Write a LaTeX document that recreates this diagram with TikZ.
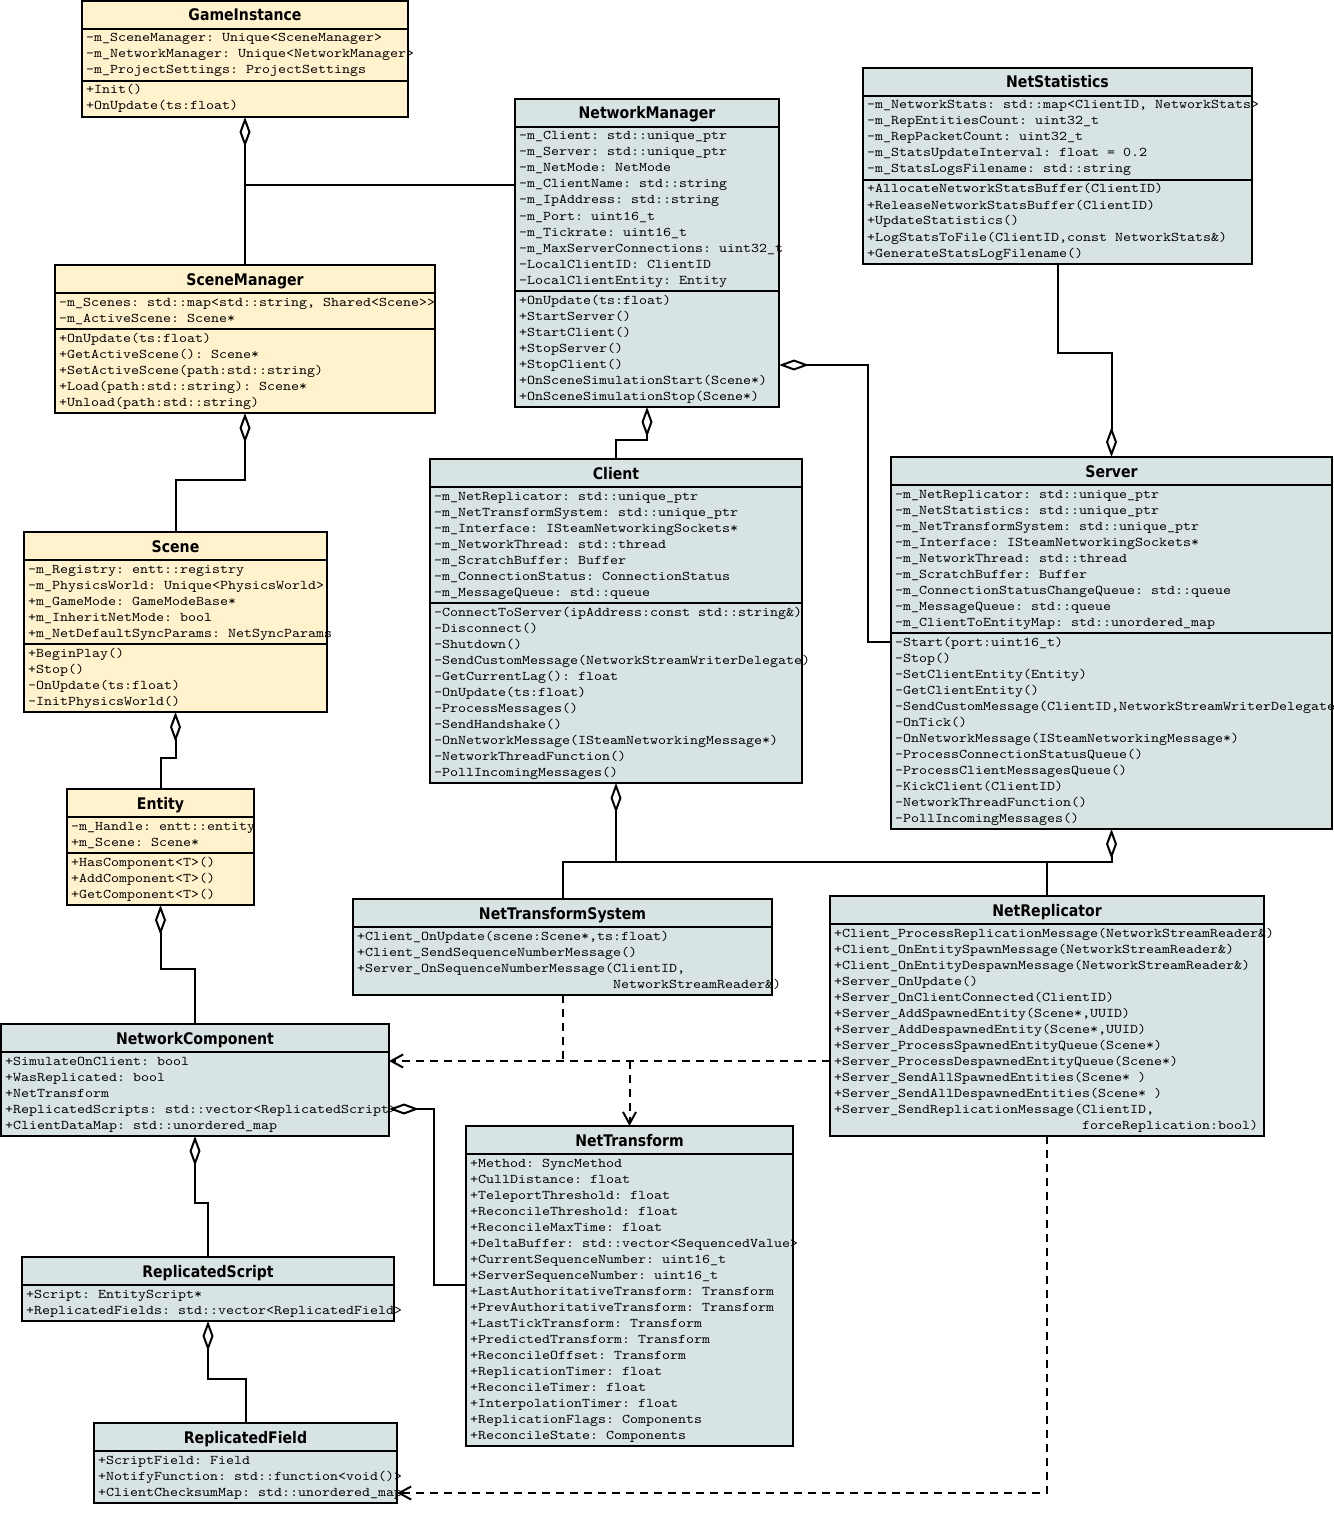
\documentclass[tikz,border=0pt]{standalone}
\usepackage{fontspec}
\usetikzlibrary{arrows.meta,calc}
\newfontfamily\umltitlefont[FakeStretch=0.88]{DejaVu Sans}
\newfontfamily\umlmono[FakeStretch=1.143]{lmmono10-regular.otf}
\definecolor{umlyellow}{RGB}{255,242,204}
\definecolor{umlblue}{RGB}{216,228,228}
\tikzset{
  conn/.style={line width=2pt, draw=black},
  sepline/.style={line width=2pt, draw=black},
  classbox/.style={draw=black, line width=2pt, inner sep=0pt, outer sep=0pt, anchor=north west},
  classtitle/.style={inner sep=0pt, anchor=base, font={\umltitlefont\bfseries\fontsize{16}{18}\selectfont}},
  member/.style={inner sep=0pt, anchor=base west, font={\umlmono\fontsize{13.33}{16}\selectfont\frenchspacing}},
  aggs/.style={conn, {Diamond[length=30pt, width=11pt, fill=white]}-},
  agge/.style={conn, -{Diamond[length=30pt, width=11pt, fill=white]}},
  depline/.style={conn, dash pattern=on 8pt off 6pt},
  dep/.style={depline, -{Straight Barb[length=12pt, width=13pt]}}
}
\newcommand\umlclass[8]{%
  \gdef\umlna{0}\gdef\umlnm{0}%
  \foreach \t [count=\i] in {#7}{\xdef\umlna{\i}}%
  \if\relax\detokenize{#8}\relax\else
    \foreach \t [count=\i] in {#8}{\xdef\umlnm{\i}}%
  \fi
  \pgfmathsetmacro\umlha{16*\umlna+4}%
  \pgfmathsetmacro\umlhm{ifthenelse(\umlnm>0,16*\umlnm+4,0)}%
  \pgfmathsetmacro\umltot{28+\umlha+\umlhm}%
  \node[classbox, fill=#5, minimum width=#4pt, minimum height=\umltot pt] (#1) at (#2,#3) {};
  \node[classtitle] (#1-t) at ({#2+#4/2},{#3+20}) {#6};
  \draw[sepline] ($(#1.north west)+(0,28)$) -- ($(#1.north east)+(0,28)$);
  \foreach \t [count=\i] in {#7}{\node[member] (#1-a\i) at ({#2+4},{#3+41+16*(\i-1)}) {\t};}
  \if\relax\detokenize{#8}\relax\else
    \draw[sepline] ($(#1.north west)+(0,28+\umlha)$) -- ($(#1.north east)+(0,28+\umlha)$);
    \foreach \t [count=\i] in {#8}{\node[member] (#1-m\i) at ({#2+4},{#3+41+\umlha+16*(\i-1)}) {\t};}
  \fi
}
\begin{document}
\begin{tikzpicture}[x=1pt, y=-1pt]
\fill[white] (0,0) rectangle (1333,1525);
\useasboundingbox (0,0) rectangle (1333,1525);

\umlclass{gi}{82}{1}{326}{umlyellow}{GameInstance}
{{-m\_SceneManager: Unique<SceneManager>},{-m\_NetworkManager: Unique<NetworkManager>},{-m\_ProjectSettings: ProjectSettings}}
{{+Init()},{+OnUpdate(ts:float)}}

\umlclass{sm}{55}{265}{380}{umlyellow}{SceneManager}
{{-m\_Scenes: std::map<std::string, Shared<Scene>>},{-m\_ActiveScene: Scene*}}
{{+OnUpdate(ts:float)},{+GetActiveScene(): Scene*},{+SetActiveScene(path:std::string)},{+Load(path:std::string): Scene*},{+Unload(path:std::string)}}

\umlclass{scene}{24}{532}{303}{umlyellow}{Scene}
{{-m\_Registry: entt::registry},{-m\_PhysicsWorld: Unique<PhysicsWorld>},{+m\_GameMode: GameModeBase*},{+m\_InheritNetMode: bool},{+m\_NetDefaultSyncParams: NetSyncParams}}
{{+BeginPlay()},{+Stop()},{-OnUpdate(ts:float)},{-InitPhysicsWorld()}}

\umlclass{entity}{67}{789}{187}{umlyellow}{Entity}
{{-m\_Handle: entt::entity},{+m\_Scene: Scene*}}
{{+HasComponent<T>()},{+AddComponent<T>()},{+GetComponent<T>()}}

\umlclass{nm}{515}{99}{264}{umlblue}{NetworkManager}
{{-m\_Client: std::unique\_ptr},{-m\_Server: std::unique\_ptr},{-m\_NetMode: NetMode},{-m\_ClientName: std::string},{-m\_IpAddress: std::string},{-m\_Port: uint16\_t},{-m\_Tickrate: uint16\_t},{-m\_MaxServerConnections: uint32\_t},{-LocalClientID: ClientID},{-LocalClientEntity: Entity}}
{{+OnUpdate(ts:float)},{+StartServer()},{+StartClient()},{+StopServer()},{+StopClient()},{+OnSceneSimulationStart(Scene*)},{+OnSceneSimulationStop(Scene*)}}

\umlclass{ns}{863}{68}{389}{umlblue}{NetStatistics}
{{-m\_NetworkStats: std::map<ClientID, NetworkStats>},{-m\_RepEntitiesCount: uint32\_t},{-m\_RepPacketCount: uint32\_t},{-m\_StatsUpdateInterval: float = 0.2},{-m\_StatsLogsFilename: std::string}}
{{+AllocateNetworkStatsBuffer(ClientID)},{+ReleaseNetworkStatsBuffer(ClientID)},{+UpdateStatistics()},{+LogStatsToFile(ClientID,const NetworkStats\&)},{+GenerateStatsLogFilename()}}

\umlclass{client}{430}{459}{372}{umlblue}{Client}
{{-m\_NetReplicator: std::unique\_ptr},{-m\_NetTransformSystem: std::unique\_ptr},{-m\_Interface: ISteamNetworkingSockets*},{-m\_NetworkThread: std::thread},{-m\_ScratchBuffer: Buffer},{-m\_ConnectionStatus: ConnectionStatus},{-m\_MessageQueue: std::queue}}
{{-ConnectToServer(ipAddress:const std::string\&)},{-Disconnect()},{-Shutdown()},{-SendCustomMessage(NetworkStreamWriterDelegate)},{-GetCurrentLag(): float},{-OnUpdate(ts:float)},{-ProcessMessages()},{-SendHandshake()},{-OnNetworkMessage(ISteamNetworkingMessage*)},{-NetworkThreadFunction()},{-PollIncomingMessages()}}

\umlclass{server}{891}{457}{441}{umlblue}{Server}
{{-m\_NetReplicator: std::unique\_ptr},{-m\_NetStatistics: std::unique\_ptr},{-m\_NetTransformSystem: std::unique\_ptr},{-m\_Interface: ISteamNetworkingSockets*},{-m\_NetworkThread: std::thread},{-m\_ScratchBuffer: Buffer},{-m\_ConnectionStatusChangeQueue: std::queue},{-m\_MessageQueue: std::queue},{-m\_ClientToEntityMap: std::unordered\_map}}
{{-Start(port:uint16\_t)},{-Stop()},{-SetClientEntity(Entity)},{-GetClientEntity()},{-SendCustomMessage(ClientID,NetworkStreamWriterDelegate},{-OnTick()},{-OnNetworkMessage(ISteamNetworkingMessage*)},{-ProcessConnectionStatusQueue()},{-ProcessClientMessagesQueue()},{-KickClient(ClientID)},{-NetworkThreadFunction()},{-PollIncomingMessages()}}

\umlclass{nts}{353}{899}{419}{umlblue}{NetTransformSystem}
{{+Client\_OnUpdate(scene:Scene*,ts:float)},{+Client\_SendSequenceNumberMessage()},{+Server\_OnSequenceNumberMessage(ClientID,},{\phantom{+Server\_OnSequenceNumberMessage(}NetworkStreamReader\&)}}
{}

\umlclass{nr}{830}{896}{434}{umlblue}{NetReplicator}
{{+Client\_ProcessReplicationMessage(NetworkStreamReader\&)},{+Client\_OnEntitySpawnMessage(NetworkStreamReader\&)},{+Client\_OnEntityDespawnMessage(NetworkStreamReader\&)},{+Server\_OnUpdate()},{+Server\_OnClientConnected(ClientID)},{+Server\_AddSpawnedEntity(Scene*,UUID)},{+Server\_AddDespawnedEntity(Scene*,UUID)},{+Server\_ProcessSpawnedEntityQueue(Scene*)},{+Server\_ProcessDespawnedEntityQueue(Scene*)},{+Server\_SendAllSpawnedEntities(Scene* )},{+Server\_SendAllDespawnedEntities(Scene* )},{+Server\_SendReplicationMessage(ClientID,},{\phantom{+Server\_SendReplicationMessage(}forceReplication:bool)}}
{}

\umlclass{nc}{1}{1024}{388}{umlblue}{NetworkComponent}
{{+SimulateOnClient: bool},{+WasReplicated: bool},{+NetTransform},{+ReplicatedScripts: std::vector<ReplicatedScript>},{+ClientDataMap: std::unordered\_map}}
{}

\umlclass{nt}{466}{1126}{327}{umlblue}{NetTransform}
{{+Method: SyncMethod},{+CullDistance: float},{+TeleportThreshold: float},{+ReconcileThreshold: float},{+ReconcileMaxTime: float},{+DeltaBuffer: std::vector<SequencedValue>},{+CurrentSequenceNumber: uint16\_t},{+ServerSequenceNumber: uint16\_t},{+LastAuthoritativeTransform: Transform},{+PrevAuthoritativeTransform: Transform},{+LastTickTransform: Transform},{+PredictedTransform: Transform},{+ReconcileOffset: Transform},{+ReplicationTimer: float},{+ReconcileTimer: float},{+InterpolationTimer: float},{+ReplicationFlags: Components},{+ReconcileState: Components}}
{}

\umlclass{rs}{22}{1257}{372}{umlblue}{ReplicatedScript}
{{+Script: EntityScript*},{+ReplicatedFields: std::vector<ReplicatedField>}}
{}

\umlclass{rf}{94}{1423}{303}{umlblue}{ReplicatedField}
{{+ScriptField: Field},{+NotifyFunction: std::function<void()>},{+ClientChecksumMap: std::unordered\_map}}
{}

% aggregation connectors
\draw[aggs] (gi.south) -- (sm.north);
\path ($(nm.north west)+(0,86)$) coordinate (nmL);
\draw[conn] (nmL) -- (gi.south |- nmL);
\draw[aggs] (sm.south) -- ++(0,67) -| (scene.north);
\draw[aggs] (scene.south) -- ++(0,46) -| (entity.north);
\draw[aggs] (entity.south) -- ++(0,64) -| (nc.north);
\draw[aggs] (nc.south) -- ++(0,67) -| (rs.north);
\draw[aggs] (rs.south) -- ++(0,58) -| (rf.north);
\draw[aggs] (nm.south) -- ++(0,33) -| (client.north);
\draw[aggs] ($(nm.north east)+(0,266)$) -- ++(89,0) |- ($(server.north west)+(0,185)$);
\draw[agge] (ns.south) -- ++(0,89) -| (server.north);
\draw[aggs] (client.south) -- ++(0,79) coordinate (bus);
\draw[conn] (bus) -| (nts.north);
\draw[conn] (bus) -| (nr.north);
\draw[aggs] (server.south) -- ++(0,33) -| (nr.north);
\draw[aggs] ($(nc.north east)+(0,85)$) -- ++(45,0) |- ($(nt.north west)+(0,159)$);

% dependencies
\draw[dep] ($(nr.north west)+(0,165)$) -- ($(nc.north east)+(0,37)$);
\draw[depline] (nts.south) -- ++(0,66);
\draw[dep] ($(nt.north)+(0,-65)$) -- (nt.north);
\draw[dep] (nr.south) |- ($(rf.north east)+(0,70)$);
\end{tikzpicture}
\end{document}
